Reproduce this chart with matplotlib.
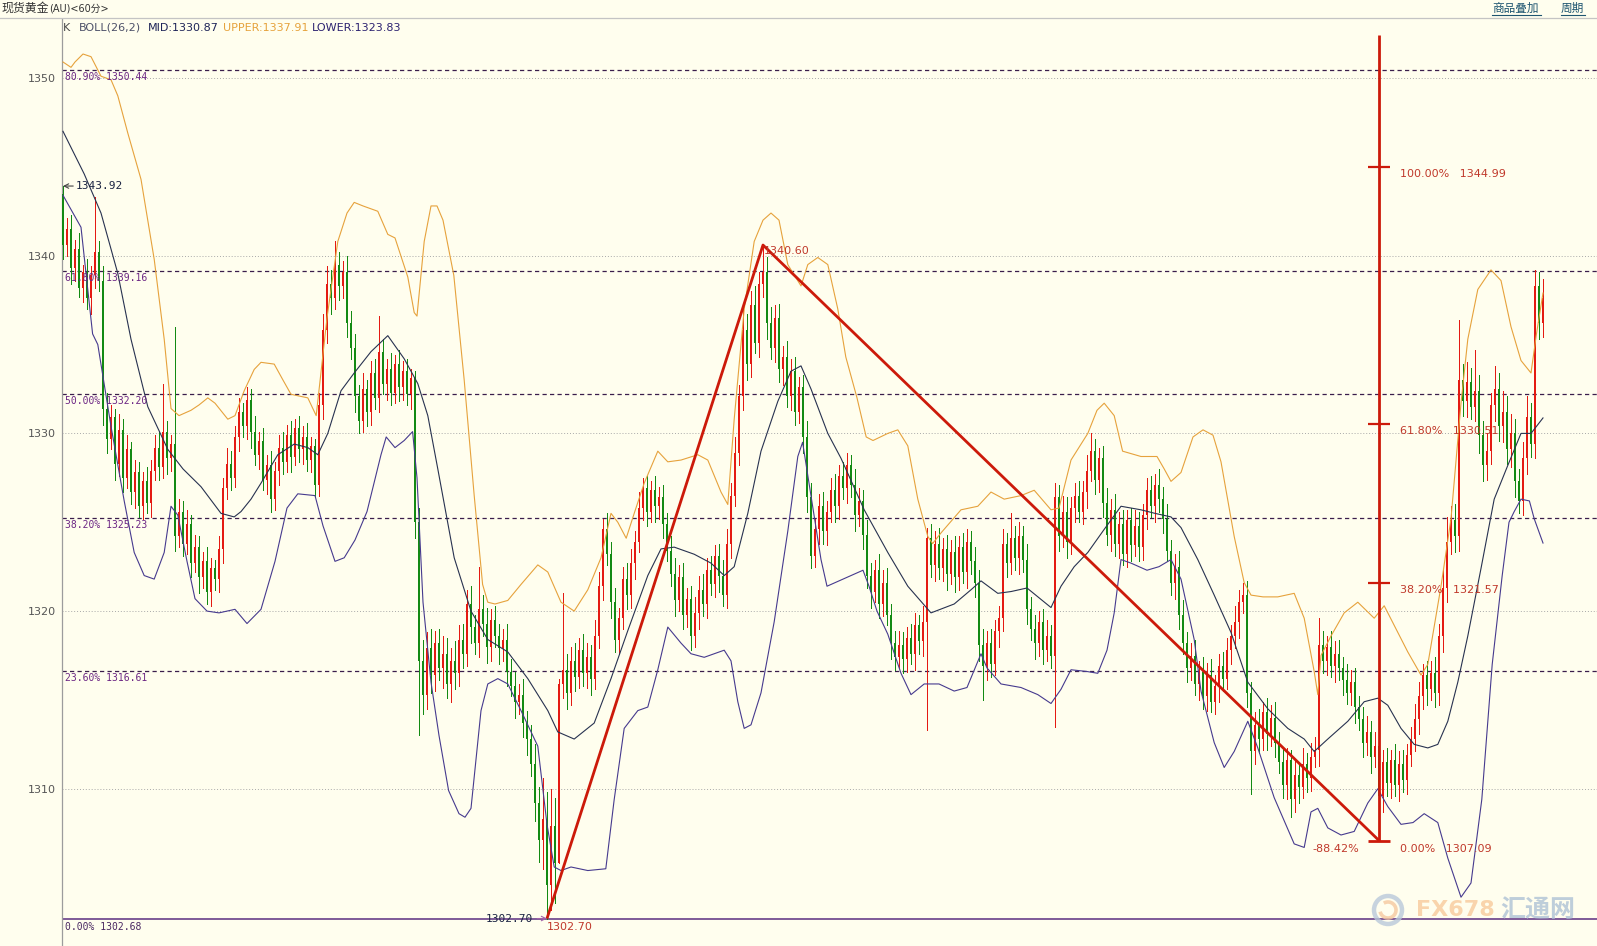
import numpy as np
import matplotlib
matplotlib.use('Agg')
import matplotlib.pyplot as plt
from matplotlib.lines import Line2D
from matplotlib.patches import Ellipse, Arc

plt.rcParams['font.family'] = ['DejaVu Sans', 'Noto Sans CJK SC']

# ---------------- data ----------------
first_open = 1343.5
closes = [
    1340.6, 1341.5, 1339.3, 1340.4, 1338.2, 1339.1, 1337.6, 1338.9, 1340.2, 1338.6,
    1331.4, 1329.7, 1330.9, 1328.3, 1330.2, 1327.5, 1329.1, 1326.7, 1327.8, 1325.9,
    1327.3, 1326.1, 1327.9, 1329.2, 1328.1, 1330.1, 1328.6, 1329.4, 1324.2, 1325.6,
    1323.8, 1324.9, 1322.7, 1323.6, 1321.9, 1322.8, 1321.1, 1322.4, 1321.8, 1323.5,
    1326.9, 1328.3, 1327.5, 1329.8, 1331.2, 1330.4, 1331.9, 1330.1, 1328.8, 1329.6,
    1327.4, 1328.2, 1326.3, 1327.9, 1329.2, 1328.4, 1329.9, 1328.7, 1330.3, 1329.1,
    1329.8, 1328.5, 1329.3, 1327.1, 1331.6, 1335.8, 1338.4, 1337.6, 1339.5, 1338.3,
    1339.1, 1336.2, 1334.8, 1332.1, 1330.7, 1332.5, 1331.2, 1333.4, 1332.0, 1334.6,
    1332.8, 1333.6, 1332.3, 1333.9, 1332.6, 1333.5, 1332.2, 1333.1, 1325.0, 1317.2,
    1315.3, 1317.9, 1316.4, 1318.2, 1316.8, 1317.6, 1315.9, 1317.2, 1316.5, 1318.4,
    1317.6, 1320.4, 1319.1, 1318.2, 1320.1, 1319.3, 1318.0, 1319.5, 1318.6, 1317.9,
    1318.4, 1316.6, 1315.8, 1314.9, 1315.3, 1313.7, 1312.8, 1311.4, 1309.2, 1307.1,
    1308.3, 1304.6, 1307.9, 1305.8, 1315.9, 1316.7, 1315.4, 1317.2, 1316.3, 1317.8,
    1316.5, 1317.4, 1316.2, 1318.6, 1321.4, 1324.6, 1323.2, 1320.5, 1318.4, 1319.6,
    1321.8, 1320.9, 1322.7, 1323.9, 1325.8, 1326.9, 1325.6, 1326.8, 1325.9, 1326.4,
    1324.9, 1323.4, 1322.1, 1320.6, 1321.9, 1319.8, 1320.7, 1318.6, 1319.9, 1321.2,
    1320.4, 1322.3, 1321.5, 1323.1, 1322.0, 1320.9, 1323.8, 1326.5, 1328.9, 1332.1,
    1335.8, 1333.9, 1337.2, 1335.1, 1338.4, 1339.1, 1336.2, 1334.8, 1336.5, 1333.6,
    1334.3, 1332.1, 1333.5, 1331.2, 1332.6, 1329.8, 1326.4, 1323.1, 1324.6, 1325.9,
    1324.5, 1325.6, 1326.8, 1325.9, 1327.6, 1326.9, 1328.2, 1327.1, 1325.4, 1326.2,
    1324.3, 1322.0, 1321.1, 1322.3, 1320.4, 1321.6, 1319.8, 1318.2, 1317.4, 1318.1,
    1317.3, 1318.5, 1317.6, 1319.2, 1318.3, 1319.4, 1324.1, 1322.6, 1323.8, 1322.4,
    1323.5, 1322.1, 1323.3, 1321.9, 1323.6, 1322.2, 1323.9, 1322.8, 1321.6, 1318.1,
    1316.9, 1318.2, 1317.0, 1318.9, 1319.6, 1323.8, 1322.7, 1324.1, 1323.0, 1324.2,
    1322.9, 1320.1, 1319.0, 1318.2, 1319.4, 1317.8, 1318.6, 1317.5, 1326.4, 1324.2,
    1325.6, 1323.9, 1325.8, 1326.5, 1325.6, 1326.7, 1327.9, 1329.0, 1327.4, 1328.6,
    1326.1, 1324.3, 1325.7, 1323.8, 1324.9, 1323.2, 1325.1, 1323.7, 1324.8, 1323.6,
    1325.4, 1326.8, 1325.9, 1327.1, 1326.3, 1325.2, 1323.4, 1321.6, 1322.5, 1319.8,
    1318.2, 1316.8, 1317.5, 1315.9, 1316.6, 1315.2, 1316.4, 1314.9, 1315.8, 1316.9,
    1316.2, 1317.8, 1318.6, 1319.4, 1320.5, 1320.9, 1315.4, 1312.1, 1313.6, 1312.8,
    1314.3, 1313.1, 1314.0, 1312.6, 1311.5, 1310.2, 1311.6, 1309.4, 1310.8, 1310.1,
    1311.4, 1310.6, 1311.8, 1312.2, 1318.1, 1317.2, 1318.0, 1316.9, 1317.6, 1316.8,
    1316.1, 1315.4, 1316.0, 1314.6, 1313.9, 1312.6, 1313.2, 1311.8, 1312.4, 1309.6,
    1311.5, 1310.3, 1311.6, 1310.2, 1311.4, 1310.5, 1311.9, 1312.8, 1313.9, 1315.2,
    1316.4, 1315.6, 1316.5, 1315.4, 1318.6, 1321.3, 1323.9, 1325.1, 1324.2, 1333.0,
    1331.8, 1332.9, 1331.5, 1332.4, 1329.9, 1328.2, 1329.0, 1331.6, 1332.5, 1330.4,
    1331.2, 1329.1, 1330.0, 1327.3, 1326.2, 1328.6, 1330.9, 1329.4, 1338.3, 1336.2,
    1337.6]
wick_up = [
    0.4, 0.6, 0.8, 0.5, 0.9, 0.4, 0.7, 0.5, 3.1, 0.6,
    0.8, 0.9, 0.7, 0.5, 0.9, 0.6, 0.8, 0.4, 0.7, 0.6,
    0.5, 0.8, 0.6, 0.7, 0.9, 2.7, 0.6, 0.5, 6.6, 0.7,
    0.6, 0.8, 0.5, 0.7, 0.6, 0.5, 0.8, 0.6, 0.5, 0.7,
    0.6, 0.9, 0.7, 0.6, 0.8, 0.5, 0.7, 0.6, 0.9, 0.5,
    0.7, 0.6, 0.8, 0.5, 0.7, 0.9, 0.6, 0.8, 0.5, 0.7,
    0.6, 0.8, 0.5, 0.4, 0.7, 0.9, 1.0, 0.8, 1.3, 0.7,
    0.6, 0.9, 0.7, 0.8, 0.6, 0.9, 0.5, 0.7, 0.8, 2.0,
    0.7, 0.6, 0.9, 0.5, 0.8, 0.6, 0.7, 0.5, 0.4, 0.8,
    1.2, 0.9, 1.1, 0.7, 0.8, 1.0, 0.9, 0.7, 1.1, 0.8,
    0.9, 0.8, 1.0, 0.7, 2.4, 0.8, 0.9, 0.6, 0.8, 0.7,
    0.6, 0.9, 0.7, 0.8, 0.6, 0.9, 0.7, 0.8, 1.1, 0.9,
    2.3, 1.5, 2.1, 1.6, 0.3, 4.3, 0.9, 0.8, 1.0, 0.7,
    0.9, 0.8, 0.7, 0.9, 0.8, 0.6, 0.9, 0.7, 0.8, 0.6,
    0.7, 0.9, 0.8, 0.6, 0.9, 0.6, 0.7, 0.5, 0.8, 0.6,
    0.7, 0.6, 0.8, 0.9, 0.7, 0.8, 0.6, 0.7, 0.9, 0.8,
    0.9, 0.7, 0.8, 0.6, 0.7, 0.9, 0.8, 0.7, 0.9, 0.6,
    1.3, 0.9, 0.8, 1.1, 0.7, 1.5, 0.8, 0.9, 0.7, 0.8,
    0.6, 0.9, 0.7, 0.8, 0.6, 0.7, 0.9, 0.8, 0.6, 0.7,
    0.8, 0.6, 0.7, 0.9, 0.6, 0.8, 0.7, 0.6, 0.9, 0.7,
    0.6, 0.8, 0.7, 0.6, 0.9, 0.7, 0.8, 0.6, 0.7, 0.8,
    0.7, 0.6, 0.8, 0.7, 0.6, 0.9, 0.6, 0.8, 0.7, 0.9,
    0.6, 0.8, 0.7, 0.9, 0.6, 0.8, 0.7, 0.6, 0.8, 0.7,
    0.9, 0.7, 0.8, 0.6, 0.7, 0.8, 0.6, 1.4, 0.7, 0.8,
    0.6, 0.9, 0.7, 0.8, 0.6, 0.7, 0.9, 0.6, 0.8, 0.7,
    0.9, 0.8, 0.6, 0.7, 0.8, 0.6, 0.9, 1.0, 0.7, 0.6,
    0.7, 0.8, 0.6, 0.9, 0.7, 0.8, 0.6, 0.7, 0.9, 0.8,
    0.6, 0.7, 0.8, 0.6, 0.9, 0.7, 0.8, 0.6, 0.7, 0.9,
    0.8, 0.6, 0.7, 0.9, 0.6, 0.8, 0.7, 0.9, 0.6, 0.7,
    0.8, 0.7, 0.6, 0.9, 0.7, 0.7, 0.8, 0.6, 0.7, 0.9,
    0.6, 0.8, 0.7, 0.9, 0.6, 0.8, 0.7, 0.6, 0.8, 0.7,
    0.9, 0.6, 0.8, 0.7, 1.5, 0.8, 0.6, 0.9, 0.7, 0.8,
    0.6, 0.9, 0.7, 0.8, 0.6, 0.7, 0.9, 0.6, 0.8, 1.1,
    0.7, 0.8, 0.6, 0.9, 0.7, 0.8, 0.6, 0.7, 0.9, 0.8,
    0.6, 0.8, 0.7, 0.9, 0.7, 1.0, 1.4, 0.8, 0.9, 3.4,
    0.9, 1.1, 0.8, 2.3, 0.9, 0.8, 1.0, 0.7, 1.3, 0.9,
    1.2, 0.9, 1.1, 0.8, 0.7, 0.9, 1.2, 0.8, 0.9, 0.8,
    1.1]
wick_dn = [
    0.8, 0.6, 0.9, 0.7, 0.5, 0.8, 0.6, 0.9, 0.7, 0.6,
    0.9, 0.8, 0.6, 0.9, 0.7, 0.8, 0.6, 0.7, 0.9, 0.6,
    0.7, 0.6, 0.8, 0.5, 0.7, 0.6, 0.9, 0.7, 0.8, 0.6,
    0.7, 0.6, 0.8, 0.5, 0.9, 0.6, 0.7, 0.8, 0.6, 0.7,
    0.8, 0.6, 0.7, 0.5, 0.8, 0.6, 0.7, 0.9, 0.6, 0.8,
    0.6, 0.8, 0.7, 0.6, 0.8, 0.7, 0.6, 0.9, 0.5, 0.7,
    0.8, 0.6, 0.7, 0.7, 0.6, 0.8, 0.7, 0.9, 0.6, 0.8,
    0.7, 0.8, 0.6, 0.9, 0.7, 0.6, 0.8, 0.7, 0.6, 0.8,
    0.6, 0.9, 0.7, 0.6, 0.8, 0.7, 0.6, 0.8, 0.9, 4.2,
    1.1, 0.8, 1.0, 0.9, 0.7, 1.1, 0.8, 1.0, 0.9, 0.7,
    0.8, 0.7, 0.9, 0.6, 0.8, 0.7, 0.9, 0.8, 0.6, 0.9,
    0.7, 0.8, 0.6, 0.9, 0.7, 0.8, 0.9, 0.7, 1.0, 1.2,
    1.6, 1.9, 1.4, 2.2, 0.0, 0.8, 0.9, 0.7, 0.8, 0.6,
    0.7, 0.8, 0.9, 0.6, 0.7, 0.8, 0.6, 0.9, 0.7, 0.8,
    0.6, 0.8, 0.7, 0.9, 0.6, 0.7, 0.8, 0.6, 0.9, 0.7,
    0.8, 0.6, 0.7, 0.9, 0.6, 0.8, 0.7, 0.8, 0.6, 0.9,
    0.7, 0.8, 0.6, 0.7, 0.9, 0.6, 0.7, 0.8, 0.6, 0.7,
    0.8, 0.9, 0.7, 0.6, 0.8, 0.7, 0.9, 0.6, 0.8, 0.7,
    0.9, 0.6, 0.8, 0.7, 0.6, 0.9, 0.8, 0.7, 0.6, 0.8,
    0.7, 0.8, 0.6, 0.9, 0.7, 0.6, 0.8, 0.7, 0.9, 0.6,
    0.8, 0.7, 0.9, 0.6, 0.8, 0.7, 0.6, 0.9, 0.7, 0.6,
    0.8, 0.7, 0.6, 0.9, 0.7, 0.8, 6.1, 0.7, 0.9, 0.6,
    0.7, 0.9, 0.6, 0.8, 0.7, 0.6, 0.9, 0.7, 0.8, 0.9,
    1.9, 0.8, 0.7, 0.6, 0.9, 0.7, 0.8, 0.6, 0.7, 0.9,
    0.7, 0.8, 0.6, 0.9, 0.7, 0.8, 0.6, 0.7, 4.0, 0.8,
    0.6, 0.9, 0.7, 0.8, 0.6, 0.7, 0.9, 0.6, 0.8, 0.7,
    0.8, 0.6, 0.9, 0.7, 0.8, 0.6, 0.7, 0.9, 0.6, 0.8,
    0.7, 0.8, 0.6, 0.9, 0.7, 0.8, 0.6, 0.7, 0.9, 0.8,
    0.6, 0.8, 0.7, 0.6, 0.9, 0.7, 0.8, 0.6, 0.7, 0.9,
    0.7, 0.6, 0.8, 0.7, 0.9, 0.6, 0.8, 2.4, 0.7, 0.8,
    0.6, 0.9, 0.7, 0.8, 0.6, 0.7, 0.8, 1.0, 0.7, 0.9,
    0.6, 0.8, 0.7, 0.6, 0.9, 0.7, 0.8, 0.6, 0.9, 0.7,
    0.8, 0.6, 0.7, 0.9, 0.6, 0.8, 0.7, 0.9, 0.6, 2.5,
    0.9, 0.7, 0.8, 0.6, 0.9, 0.7, 0.8, 0.6, 0.7, 0.8,
    0.7, 0.9, 0.6, 0.8, 0.7, 0.9, 0.8, 0.7, 0.9, 0.8,
    0.8, 0.9, 0.7, 0.8, 1.0, 0.9, 0.8, 0.7, 0.9, 0.8,
    0.9, 0.8, 1.0, 0.9, 0.7, 0.8, 0.9, 0.7, 0.8, 0.9,
    0.8]

# Bollinger bands (BOLL 26,2), sampled along the bar index
upper_x = [0, 2, 3, 5, 7, 9.5, 12, 13.7, 16.2, 19.5, 22.8, 25.3, 27, 29, 32, 34, 36.2, 38, 41.2, 43,
           45.3, 47.8, 49.5, 52.8, 55, 57, 61.2, 63.3, 66, 68.7, 71, 72.8, 75, 78.7, 81.2, 83, 86.2,
           87.8, 88.5, 90.3, 92, 93.5, 95, 97.7, 100.3, 102.8, 104.9, 106.2, 108, 111.2, 114.5,
           118.7, 121.2, 124.5, 127.8, 131.2, 134.5, 137, 138.7, 140.8, 142.8, 145.3, 148.7, 151.2,
           154.5, 158.7, 161.2, 164.5, 166.2, 167.8, 170.3, 172.8, 175, 177, 179, 181.2, 184.5,
           186.2, 188.7, 191.2, 193.7, 195.7, 198.5, 200.8, 202.5, 206.2, 208.7, 211.2, 213.7,
           216.2, 217.4, 219.5, 224.5, 228.7, 232, 235.3, 239.5, 242.8, 247, 249, 252, 256.2, 258.5,
           260.3, 262.8, 264.9, 269.5, 273.5, 275.3, 277, 279.5, 282.5, 285, 287.5, 289.5, 292.8,
           295.3, 297, 300, 303.7, 307.8, 310.3, 312.8, 313.7, 314.5, 317, 320.3, 323.7, 327.8,
           330.3, 332.8, 336.2, 339.5, 341.2, 344.5, 347, 349.5, 351.2, 353.7, 357, 359.5, 362,
           364.5, 367, 368.3, 370]
upper_y = [1350.9, 1350.6, 1350.9, 1351.35, 1351.2, 1350.1, 1349.9, 1349.0, 1346.9, 1344.3,
           1339.8, 1335.3, 1331.4, 1331.0, 1331.3, 1331.6, 1332.0, 1331.7, 1330.8, 1331.0,
           1332.4, 1333.6, 1334.0, 1333.9, 1333.0, 1332.2, 1332.0, 1331.0, 1336.5, 1340.8,
           1342.4, 1343.0, 1342.8, 1342.5, 1341.2, 1341.0, 1338.8, 1336.8, 1336.6, 1340.8,
           1342.8, 1342.8, 1342.0, 1338.9, 1333.0, 1326.5, 1321.5, 1320.5, 1320.4, 1320.6,
           1321.5, 1322.6, 1322.2, 1320.5, 1320.0, 1321.2, 1323.0, 1325.5, 1325.0, 1324.1,
           1325.5, 1327.2, 1329.0, 1328.4, 1328.5, 1328.8, 1328.5, 1326.7, 1326.0, 1330.8,
           1337.0, 1340.8, 1342.0, 1342.4, 1342.0, 1339.5, 1338.3, 1339.5, 1339.9, 1339.5,
           1337.0, 1334.3, 1332.0, 1329.8, 1329.6, 1330.0, 1330.2, 1329.3, 1326.3, 1324.2,
           1323.8, 1324.4, 1325.7, 1325.9, 1326.7, 1326.3, 1326.5, 1326.8, 1325.7, 1325.8,
           1328.5, 1330.0, 1331.3, 1331.7, 1331.0, 1329.0, 1328.7, 1328.7, 1328.0, 1327.3,
           1327.8, 1329.8, 1330.2, 1329.9, 1328.4, 1324.2, 1321.6, 1320.9, 1320.8, 1320.8,
           1321.0, 1319.6, 1316.6, 1315.3, 1317.5, 1318.6, 1319.9, 1320.5, 1319.6, 1320.3,
           1319.2, 1317.7, 1316.4, 1317.0, 1321.4, 1325.2, 1331.7, 1335.3, 1338.1, 1339.2,
           1338.6, 1336.0, 1334.1, 1333.4, 1335.5, 1337.9]
mid_x = [0, 5.3, 9.5, 13.7, 17, 21.2, 26.2, 30, 34.5, 39.5, 42.8, 44.5, 47, 49.5, 53.7, 57.8, 61.2,
         63.7, 66.2, 69.5, 72.8, 77, 81.2, 85.3, 88.7, 91.2, 93.7, 97.8, 102, 106.2, 111.2, 116.2,
         121.2, 123.7, 127.8, 132.8, 137, 141.2, 146.2, 149.5, 152.8, 157.8, 162, 165.3, 167.8,
         171.2, 174.5, 178.7, 182, 184.5, 187, 191.2, 194.5, 200.3, 206.2, 211.2, 217, 222.8, 227,
         229.5, 233.7, 237, 241, 247, 249.5, 252.8, 256.2, 260.3, 264.5, 269.5, 273, 277, 279.5,
         283.7, 287.8, 292, 296.2, 301.2, 306.2, 310.3, 312.8, 316.2, 321.2, 325.3, 328.7, 331.2,
         334.5, 337.8, 341.2, 343.7, 346.2, 348.7, 351.2, 354.5, 357.8, 361.2, 364.5, 367, 370]
mid_y = [1347.0, 1344.6, 1342.4, 1339.0, 1335.3, 1331.5, 1329.1, 1328.0, 1327.0, 1325.5,
         1325.3, 1325.6, 1326.3, 1327.2, 1328.8, 1329.4, 1329.2, 1328.8, 1330.0, 1332.4,
         1333.4, 1334.6, 1335.5, 1334.2, 1332.8, 1331.0, 1328.0, 1323.0, 1320.0, 1318.4,
         1317.7, 1316.2, 1314.4, 1313.2, 1312.8, 1313.7, 1316.2, 1318.9, 1322.0, 1323.5,
         1323.6, 1323.2, 1322.7, 1322.0, 1322.5, 1325.5, 1329.0, 1331.8, 1333.5, 1333.8,
         1332.5, 1330.0, 1328.6, 1325.7, 1323.3, 1321.4, 1319.9, 1320.4, 1321.2, 1321.7,
         1321.0, 1321.1, 1321.3, 1320.2, 1321.4, 1322.5, 1323.3, 1324.6, 1325.9, 1325.7,
         1325.5, 1325.3, 1324.7, 1322.9, 1320.9, 1318.8, 1316.0, 1314.5, 1313.4, 1312.8,
         1312.1, 1312.8, 1313.8, 1314.9, 1315.1, 1314.7, 1313.4, 1312.5, 1312.3, 1312.5,
         1313.8, 1316.0, 1318.6, 1322.4, 1326.3, 1328.2, 1330.0, 1330.0, 1330.87]
lower_x = [0, 4.5, 7.4, 8.7, 12, 15.3, 17.8, 20.3, 22.8, 25.3, 27, 28.7, 31, 33, 36, 39, 43, 46,
           49.5, 53, 56, 58.7, 63, 65, 68, 70.3, 73, 76, 79.5, 80.8, 83, 85.3, 87.4, 88.5, 90, 92,
           94, 96.4, 99, 100.5, 102, 104.5, 106.2, 108.7, 111.2, 114.5, 118.7, 121, 122.8, 124.5,
           127, 131.2, 135.7, 137.8, 140.3, 143.7, 146.2, 148.7, 151.2, 154.5, 157, 160.3, 162.8,
           165.3, 167, 168.7, 170.3, 172, 174.5, 177.8, 181.2, 183.7, 184.9, 187, 189.5, 191, 194,
           197, 200, 201.5, 203.5, 206.2, 209.5, 212, 215.3, 219, 222.8, 226, 229.5, 231, 234.5,
           239.5, 243.7, 247, 249.5, 252, 256, 258.7, 261, 262.8, 264.5, 267, 271, 274, 277, 279.5,
           282.8, 284.5, 286.2, 287.8, 290.3, 292.8, 296.2, 298.7, 302.8, 307.8, 310.3, 312, 313.7,
           316.2, 319.5, 322.8, 326.2, 328.7, 331.2, 334.5, 337.5, 340.3, 343.7, 346.2, 349.5, 352,
           354.7, 357.3, 359.8, 361.5, 362.8, 364.5, 366.6, 367.8, 370]
lower_y = [1343.4, 1341.6, 1335.6, 1335.0, 1330.4, 1326.2, 1323.3, 1322.0, 1321.8, 1323.3,
           1325.9, 1325.4, 1322.8, 1320.7, 1320.0, 1319.9, 1320.1, 1319.3, 1320.1, 1322.8,
           1325.8, 1326.6, 1326.5, 1324.8, 1322.8, 1323.0, 1324.0, 1325.6, 1328.8, 1329.8,
           1329.2, 1329.6, 1330.1, 1327.5, 1320.5, 1316.0, 1313.0, 1309.9, 1308.6, 1308.4,
           1308.9, 1314.4, 1315.9, 1316.2, 1315.9, 1314.4, 1312.4, 1308.0, 1305.6, 1305.4,
           1305.6, 1305.4, 1305.5, 1309.4, 1313.4, 1314.4, 1314.6, 1316.7, 1319.1, 1318.2,
           1317.6, 1317.4, 1317.6, 1317.8, 1317.2, 1314.9, 1313.4, 1313.6, 1315.4, 1319.4,
           1324.5, 1328.7, 1329.5, 1326.5, 1322.9, 1321.4, 1321.7, 1322.0, 1322.3, 1321.4,
           1320.0, 1318.7, 1316.5, 1315.3, 1315.9, 1315.9, 1315.5, 1315.7, 1317.6, 1316.8,
           1315.9, 1315.7, 1315.3, 1314.8, 1315.6, 1316.7, 1316.6, 1316.5, 1317.8, 1319.9,
           1322.9, 1322.7, 1322.3, 1322.5, 1322.9, 1321.8, 1318.4, 1315.5, 1314.0, 1312.6,
           1311.2, 1312.1, 1313.8, 1312.3, 1309.5, 1306.9, 1306.7, 1308.7, 1308.9, 1307.8,
           1307.4, 1307.6, 1309.2, 1310.0, 1309.0, 1308.0, 1308.1, 1308.6, 1308.1, 1306.1,
           1303.9, 1304.7, 1309.4, 1317.0, 1322.0, 1325.0, 1325.6, 1326.3, 1326.2, 1325.2,
           1323.83]

boll_mid, boll_upper, boll_lower = 1330.87, 1337.91, 1323.83

y_ticks = [1310, 1320, 1330, 1340, 1350]
fib_pcts = ['80.90%', '61.80%', '50.00%', '38.20%', '23.60%']
fib_levels = [1350.44, 1339.16, 1332.20, 1325.23, 1316.61]
fib_base_pct = '0.00%'
fib_base = 1302.68

swing_x = [121, 175, 329]
swing_y = [1302.70, 1340.60, 1307.09]
ext_pcts = ['100.00%', '61.80%', '38.20%', '0.00%']
ext_levels = [1344.99, 1330.51, 1321.57, 1307.09]
ext_ratio = '-88.42%'
ext_top = 1352.4
start_high = 1343.92

# ---------------- style ----------------
W, H = 1597, 946
BG = '#FFFEEE'
RED = '#E41A12'
GREEN = '#138A13'
FIBRED = '#CC1A0A'
TXTRED = '#C0392B'
PURPLE_TXT = '#6C2684'
DASH = '#3A1E4C'
UPPER_C = '#E6A23C'
MID_C = '#283250'
LOWER_C = '#463A8E'
px = 0.72  # points per pixel

fig = plt.figure(figsize=(W / 100, H / 100), dpi=100)
fig.patch.set_facecolor(BG)
top_px = 18.5
ax = fig.add_axes([62 / W, 0, 1 - 62 / W, (H - top_px) / H])
ax.set_facecolor(BG)
ax.set_xlim(-0.25, 383.5)
ax.set_ylim(1350 - (H - 78) / 17.77, 1350 + (78 - top_px) / 17.77)

# spines / ticks
for s in ['top', 'right', 'bottom']:
    ax.spines[s].set_visible(False)
ax.spines['left'].set_color('#9C9C9C')
ax.spines['left'].set_linewidth(0.9)
ax.set_xticks([])
ax.set_yticks(y_ticks)
ax.set_yticklabels([str(t) for t in y_ticks])
ax.tick_params(axis='y', length=0, pad=4.5, labelsize=8, labelcolor='#555555')

# dotted grid
ax.hlines(y_ticks, -0.25, 383.5, colors='#A9A9A9', linestyles=(0, (1, 2)), lw=0.7, zorder=1)

# Fibonacci retracement lines
ytr = ax.get_yaxis_transform()
for pct, lev in zip(fib_pcts, fib_levels):
    ax.axhline(lev, color=DASH, lw=0.9, ls=(0, (3.4, 2.6)), zorder=2)
    ax.annotate(f'{pct} {lev:.2f}', xy=(0, lev), xycoords=ytr, xytext=(3 * px, -2 * px),
                textcoords='offset points', ha='left', va='top', fontsize=7,
                family='DejaVu Sans Mono', color=PURPLE_TXT, zorder=5)
ax.axhline(fib_base, color='#5B2E80', lw=1.1, zorder=2)
ax.annotate(f'{fib_base_pct} {fib_base:.2f}', xy=(0, fib_base), xycoords=ytr,
            xytext=(3 * px, -3 * px), textcoords='offset points', ha='left', va='top',
            fontsize=7, family='DejaVu Sans Mono', color='#4A2862', zorder=5)

# candlesticks
c = np.array(closes)
o = np.r_[first_open, c[:-1]]
hi = np.maximum(o, c) + np.array(wick_up)
lo = np.minimum(o, c) - np.array(wick_dn)
xb = np.arange(len(c))
cols = np.where(c >= o, RED, GREEN)
ax.vlines(xb, lo, hi, colors=cols, lw=0.7, zorder=3, antialiased=False)
btop = np.maximum(o, c)
bbot = np.minimum(o, c)
ax.vlines(xb, bbot, np.maximum(btop, bbot + 0.1), colors=cols, lw=1.2, zorder=3,
          antialiased=False)

# Bollinger bands
ax.plot(upper_x, upper_y, color=UPPER_C, lw=0.8, zorder=4)
ax.plot(mid_x, mid_y, color=MID_C, lw=0.8, zorder=4)
ax.plot(lower_x, lower_y, color=LOWER_C, lw=0.8, zorder=4)

# swing trend lines
ax.plot(swing_x, swing_y, color=FIBRED, lw=2.0, zorder=6, solid_capstyle='butt')

# Fibonacci extension ruler
vx = swing_x[2]
ax.vlines(vx, swing_y[2], ext_top, color=FIBRED, lw=2.0, zorder=6)
for i, (pct, lev) in enumerate(zip(ext_pcts, ext_levels)):
    half = 2.75
    ax.hlines(lev, vx - half, vx + half, color=FIBRED, lw=2.0 if i == 3 else 1.6, zorder=6)
    dy = -8 if i == 3 else -7
    ax.annotate(f'{pct}   {lev:.2f}', xy=(vx, lev), xytext=(21 * px, dy * px),
                textcoords='offset points', ha='left', va='center', fontsize=8,
                color=TXTRED, zorder=7)
ax.annotate(ext_ratio, xy=(vx, ext_levels[3]), xytext=(-20 * px, -8 * px),
            textcoords='offset points', ha='right', va='center', fontsize=8,
            color=TXTRED, zorder=7)

# point labels
ax.annotate(f'{start_high:.2f}', xy=(0, start_high), xytext=(13 * px, 0),
            textcoords='offset points', ha='left', va='center', fontsize=8,
            family='DejaVu Sans Mono', color='#1B2442', zorder=7,
            arrowprops=dict(arrowstyle='->', color='#444444', lw=0.8, shrinkA=0, shrinkB=0))
ax.annotate(f'{swing_y[0]:.2f}', xy=(swing_x[0], swing_y[0]), xytext=(-14 * px, 0),
            textcoords='offset points', ha='right', va='center', fontsize=8,
            family='DejaVu Sans Mono', color='#1B2442', zorder=7,
            arrowprops=dict(arrowstyle='->', color='#A060A8', lw=0.8, shrinkA=1, shrinkB=0))
ax.annotate(f'{swing_y[0]:.2f}', xy=(swing_x[0], swing_y[0]), xytext=(0, -8 * px),
            textcoords='offset points', ha='left', va='center', fontsize=8,
            color=TXTRED, zorder=7)
ax.annotate(f'{swing_y[1]:.2f}', xy=(swing_x[1], swing_y[1]), xytext=(1 * px, -6 * px),
            textcoords='offset points', ha='left', va='center', fontsize=8,
            color=TXTRED, zorder=7)

# ---------------- header ----------------
def fx(p):
    return p / W


def fy(p):
    return 1 - p / H


fig.add_artist(Line2D([0, 1], [fy(top_px), fy(top_px)], color='#C4C4C4', lw=0.9))
fig.text(fx(1), fy(8.5), '现货黄金', fontsize=8.6, family='Noto Sans CJK SC',
         color='#333333', va='center', ha='left')
fig.text(fx(49), fy(8.5), '(AU)<60分>', fontsize=7, family=['DejaVu Sans', 'Noto Sans CJK SC'],
         color='#333333', va='center', ha='left')

leg_y = fy(28)
fig.text(fx(63), leg_y, 'K', fontsize=8, color='#4A4A4A', va='center')
fig.text(fx(79), leg_y, 'BOLL(26,2)', fontsize=8, color='#4C5068', va='center')
fig.text(fx(148), leg_y, f'MID:{boll_mid:.2f}', fontsize=8, color='#1E2458', va='center')
fig.text(fx(223), leg_y, f'UPPER:{boll_upper:.2f}', fontsize=8, color=UPPER_C, va='center')
fig.text(fx(312), leg_y, f'LOWER:{boll_lower:.2f}', fontsize=8, color='#2C2270', va='center')

LINK = '#1E5570'
fig.text(fx(1492), fy(8.5), '商品叠加', fontsize=8.4, family='Noto Sans CJK SC',
         color=LINK, va='center', ha='left')
fig.add_artist(Line2D([fx(1492), fx(1541)], [fy(14.6), fy(14.6)], color=LINK, lw=0.8))
fig.text(fx(1561), fy(8.5), '周期', fontsize=8.4, family='Noto Sans CJK SC',
         color=LINK, va='center', ha='left')
fig.add_artist(Line2D([fx(1561), fx(1585)], [fy(14.6), fy(14.6)], color=LINK, lw=0.8))

# ---------------- watermark ----------------
fig.add_artist(Ellipse((fx(1388), fy(910)), 28 / W, 28 / H, fill=False,
                       edgecolor='#B9C9DA', lw=3.2, alpha=0.8, zorder=8))
fig.add_artist(Arc((fx(1388), fy(910)), 16 / W, 16 / H, theta1=200, theta2=470,
                   edgecolor='#F5C9A0', lw=2.6, alpha=0.8, zorder=8))
fig.text(fx(1416), fy(910), 'FX678', fontsize=16, fontweight='bold', color='#F7C796',
         alpha=0.75, va='center', ha='left', zorder=8)
fig.text(fx(1500), fy(910), '汇通网', fontsize=18, fontweight='bold',
         family='Noto Sans CJK SC', color='#A9BED4', alpha=0.75, va='center', ha='left',
         zorder=8)

fig.savefig('out.png', dpi=100, facecolor=BG)
